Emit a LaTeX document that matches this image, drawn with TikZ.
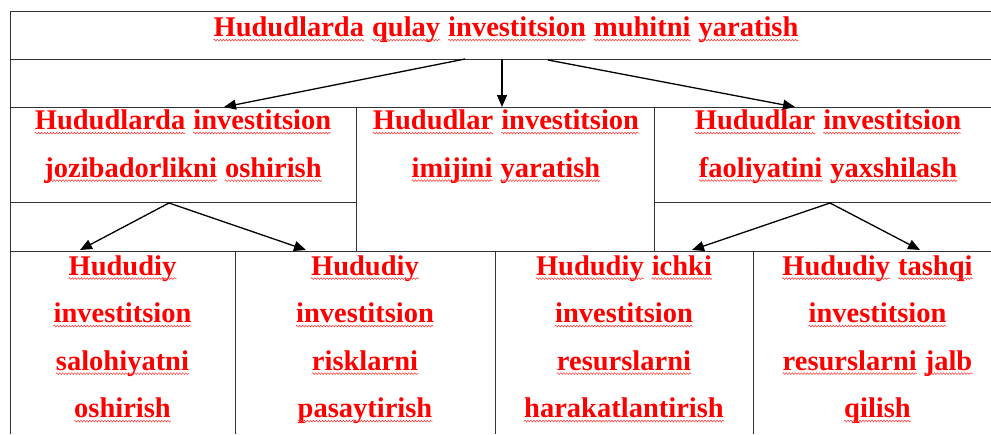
\documentclass[tikz,border=0pt]{standalone}
\usepackage{fontspec}
\setmainfont{Liberation Serif}
\usetikzlibrary{arrows.meta,decorations.pathmorphing}

% word with a wavy red underline
\newcommand{\uw}[1]{\tikz[baseline=(w.base)]{\node[inner sep=0pt, anchor=base] (w) {#1};
    \draw[red!80, line width=0.5pt, decorate, decoration={snake, amplitude=0.9pt, segment length=3pt}]
    ([yshift=-3.6pt]w.base west) -- ([yshift=-3.6pt]w.base east);}}

\begin{document}
\begin{tikzpicture}
    [x=1pt, y=-1pt,
     tableline/.style={draw=black!80, line width=0.8pt},
     redtext/.style={text=red, font=\fontsize{28.5}{47.5}\selectfont\bfseries, align=center, anchor=base, inner sep=0pt},
     arrowline/.style={draw=black, line width=1.3pt, -{Triangle[length=12pt,width=10pt]}}]
    \useasboundingbox (0,0) rectangle (991,434);
    \clip (0,0) rectangle (991,434);

    % Table rules
    \draw [tableline] (10,434) -- (10,11) -- (1002,11);
    \draw [tableline] (10,59) -- (1002,59);
    \draw [tableline] (10,107) -- (1002,107);
    \draw [tableline] (10,202) -- (356,202);
    \draw [tableline] (654,202) -- (1002,202);
    \draw [tableline] (10,251) -- (1002,251);
    \draw [tableline] (356,107) -- (356,251);
    \draw [tableline] (654,107) -- (654,251);
    \draw [tableline] (235,251) -- (235,434);
    \draw [tableline] (495,251) -- (495,434);
    \draw [tableline] (753,251) -- (753,434);

    % Top row (base = last line)
    \node (title) at (506,36.5) [redtext]
    {\uw{Hududlarda} \uw{qulay} \uw{investitsion} \uw{muhitni} \uw{yaratish}};

    % Middle row
    \node (attract) at (183,177) [redtext]
    {\uw{Hududlarda} \uw{investitsion}\\\uw{jozibadorlikni} \uw{oshirish}};
    \node (image) at (506,177) [redtext]
    {\uw{Hududlar} \uw{investitsion}\\\uw{imijini} \uw{yaratish}};
    \node (activity) at (828,177) [redtext]
    {\uw{Hududlar} \uw{investitsion}\\\uw{faoliyatini} \uw{yaxshilash}};

    % Bottom row
    \node (potential) at (122.5,417.5) [redtext]
    {\uw{Hududiy}\\\uw{investitsion}\\\uw{salohiyatni}\\\uw{oshirish}};
    \node (risks) at (365,417.5) [redtext]
    {\uw{Hududiy}\\\uw{investitsion}\\\uw{risklarni}\\\uw{pasaytirish}};
    \node (inner) at (624,417.5) [redtext]
    {\uw{Hududiy} \uw{ichki}\\\uw{investitsion}\\\uw{resurslarni}\\\uw{harakatlantirish}};
    \node (outer) at (877.5,417.5) [redtext]
    {\uw{Hududiy} \uw{tashqi}\\\uw{investitsion}\\\uw{resurslarni} \uw{jalb}\\\uw{qilish}};

    % Arrow ends
    \coordinate (titleL) at (465,59);
    \coordinate (titleM) at (502,59);
    \coordinate (titleR) at (548,60);
    \coordinate (attractIn) at (224,107);
    \coordinate (imageIn) at (502,107);
    \coordinate (activityIn) at (795,107);
    \coordinate (attractOut) at (169,203);
    \coordinate (activityOut) at (830,203);
    \coordinate (potentialIn) at (80,250);
    \coordinate (risksIn) at (306,250);
    \coordinate (innerIn) at (692,250);
    \coordinate (outerIn) at (920,250);

    \draw [arrowline] (titleL) -- (attractIn);
    \draw [arrowline] (titleM) -- (imageIn);
    \draw [arrowline] (titleR) -- (activityIn);
    \draw [arrowline] (attractOut) -- (potentialIn);
    \draw [arrowline] (attractOut) -- (risksIn);
    \draw [arrowline] (activityOut) -- (innerIn);
    \draw [arrowline] (activityOut) -- (outerIn);
\end{tikzpicture}
\end{document}
